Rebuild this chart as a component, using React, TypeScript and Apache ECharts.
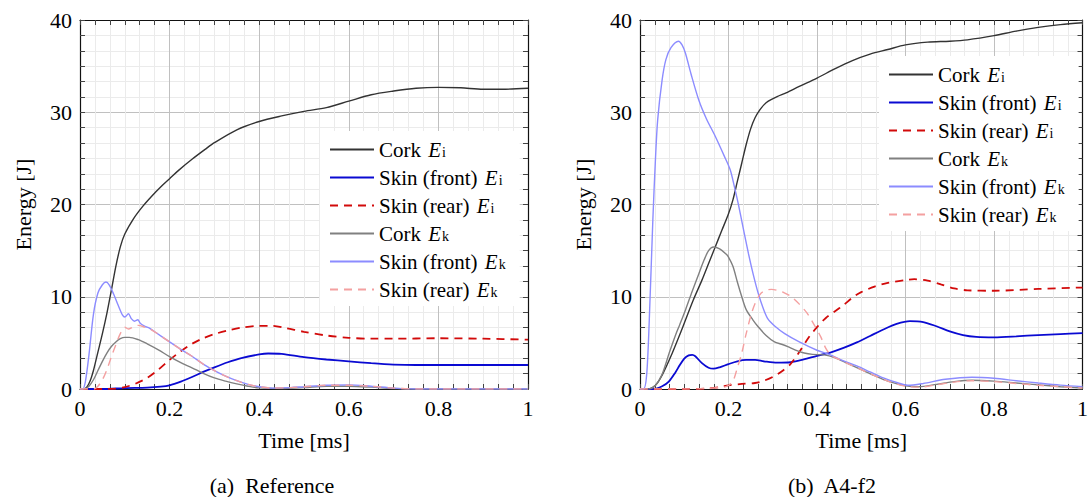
import React, { useEffect, useRef } from "react";
import * as echarts from "echarts";

// ---------- data (time [ms], energy [J]) ----------
const seriesNames = ["Cork Ei", "Skin (front) Ei", "Skin (rear) Ei", "Cork Ek", "Skin (front) Ek", "Skin (rear) Ek"];
const xTicks = [0, 0.2, 0.4, 0.6, 0.8, 1];
const yTicks = [0, 10, 20, 30, 40];
const captions = ["(a)  Reference", "(b)  A4-f2"];

// (a) Reference
const refCorkEi = [[0,0],[0.008,0],[0.015,0.2],[0.02,0.6],[0.025,1.2],[0.03,2.0],[0.04,4.0],[0.05,6.0],[0.06,8.2],[0.07,10.7],[0.08,13.3],[0.09,15.4],[0.1,16.8],[0.12,18.5],[0.14,19.8],[0.16,20.9],[0.18,21.9],[0.2,22.8],[0.22,23.7],[0.25,24.9],[0.28,26.0],[0.3,26.7],[0.35,28.1],[0.4,29.0],[0.45,29.6],[0.5,30.1],[0.55,30.5],[0.6,31.2],[0.65,31.9],[0.7,32.3],[0.75,32.6],[0.8,32.7],[0.85,32.65],[0.9,32.5],[0.95,32.5],[1,32.6]];
const refSkinFrontEi = [[0,0],[0.05,0],[0.1,0.1],[0.15,0.15],[0.18,0.25],[0.2,0.4],[0.225,0.8],[0.25,1.3],[0.275,1.85],[0.3,2.35],[0.33,2.9],[0.36,3.35],[0.4,3.75],[0.42,3.85],[0.45,3.8],[0.5,3.45],[0.55,3.2],[0.6,3.0],[0.65,2.8],[0.7,2.65],[0.75,2.6],[0.8,2.6],[0.9,2.6],[1,2.6]];
const refSkinRearEi = [[0,0],[0.05,0],[0.08,0.05],[0.1,0.2],[0.125,0.6],[0.15,1.2],[0.175,2.1],[0.2,3.15],[0.225,4.1],[0.25,4.9],[0.275,5.5],[0.3,5.95],[0.33,6.35],[0.36,6.65],[0.4,6.85],[0.43,6.85],[0.46,6.6],[0.5,6.2],[0.55,5.8],[0.6,5.55],[0.65,5.45],[0.7,5.45],[0.8,5.5],[0.9,5.45],[1,5.35]];
const refCorkEk = [[0,0],[0.01,0],[0.02,0.3],[0.03,1.0],[0.04,2.0],[0.05,3.0],[0.06,3.9],[0.07,4.6],[0.08,5.1],[0.09,5.45],[0.1,5.6],[0.11,5.6],[0.13,5.35],[0.15,4.9],[0.175,4.25],[0.2,3.5],[0.225,2.85],[0.25,2.3],[0.275,1.7],[0.3,1.2],[0.325,0.85],[0.35,0.55],[0.375,0.3],[0.4,0.12],[0.45,0.05],[0.5,0.15],[0.55,0.3],[0.6,0.3],[0.65,0.2],[0.7,0.05],[0.75,0],[1,0]];
const refSkinFrontEk = [[0,0],[0.006,0],[0.012,0.8],[0.02,3.7],[0.03,8.1],[0.04,10.4],[0.05,11.3],[0.058,11.6],[0.065,11.3],[0.075,10.3],[0.085,9.1],[0.095,8.0],[0.1,7.8],[0.108,8.15],[0.115,7.6],[0.122,7.35],[0.129,7.5],[0.135,7.1],[0.145,6.8],[0.155,6.6],[0.17,6.1],[0.2,5.1],[0.225,4.3],[0.25,3.55],[0.275,2.7],[0.3,2.0],[0.325,1.4],[0.35,0.9],[0.375,0.5],[0.4,0.25],[0.43,0.1],[0.47,0.15],[0.5,0.25],[0.55,0.4],[0.6,0.45],[0.65,0.3],[0.7,0.1],[0.75,0],[1,0]];
const refSkinRearEk = [[0,0],[0.03,0],[0.04,0.3],[0.05,1.0],[0.06,2.1],[0.07,3.5],[0.08,4.8],[0.09,6.0],[0.1,6.7],[0.108,6.5],[0.118,6.7],[0.13,6.9],[0.145,6.7],[0.155,6.55],[0.17,6.1],[0.2,5.1],[0.225,4.3],[0.25,3.55],[0.275,2.7],[0.3,2.0],[0.325,1.4],[0.35,0.9],[0.375,0.5],[0.4,0.25],[0.43,0.1],[0.47,0.15],[0.5,0.25],[0.55,0.4],[0.6,0.4],[0.65,0.3],[0.7,0.1],[0.75,0],[1,0]];

// (b) A4-f2
const a4CorkEi = [[0,0],[0.02,0],[0.03,0.2],[0.04,0.7],[0.05,1.5],[0.06,2.5],[0.073,3.9],[0.09,5.9],[0.103,7.5],[0.12,9.6],[0.14,11.8],[0.155,13.6],[0.17,15.4],[0.185,17.2],[0.2,19.0],[0.21,20.5],[0.22,22.5],[0.23,24.5],[0.24,26.5],[0.25,28.2],[0.26,29.4],[0.27,30.2],[0.28,30.8],[0.29,31.2],[0.31,31.7],[0.33,32.1],[0.36,32.8],[0.4,33.7],[0.44,34.7],[0.48,35.6],[0.52,36.3],[0.56,36.8],[0.6,37.3],[0.65,37.6],[0.7,37.7],[0.74,37.85],[0.8,38.3],[0.85,38.8],[0.9,39.2],[0.95,39.5],[1,39.7]];
const a4SkinFrontEi = [[0,0],[0.03,0],[0.05,0.3],[0.065,0.8],[0.08,1.8],[0.09,2.6],[0.1,3.3],[0.11,3.65],[0.118,3.7],[0.125,3.55],[0.14,2.8],[0.155,2.3],[0.166,2.2],[0.18,2.35],[0.2,2.7],[0.22,3.0],[0.24,3.15],[0.26,3.15],[0.28,3.0],[0.31,2.85],[0.34,2.9],[0.37,3.2],[0.4,3.6],[0.43,3.95],[0.46,4.45],[0.49,5.05],[0.52,5.75],[0.55,6.45],[0.58,7.05],[0.61,7.35],[0.64,7.25],[0.67,6.8],[0.7,6.25],[0.73,5.85],[0.76,5.65],[0.8,5.6],[0.85,5.7],[0.9,5.85],[0.95,5.95],[1,6.05]];
const a4SkinRearEi = [[0,0],[0.1,0],[0.15,0.05],[0.18,0.2],[0.2,0.4],[0.23,0.55],[0.26,0.65],[0.28,0.9],[0.3,1.3],[0.32,1.9],[0.34,2.7],[0.36,4.0],[0.38,5.5],[0.4,6.7],[0.42,7.7],[0.44,8.4],[0.46,9.1],[0.48,9.9],[0.5,10.5],[0.53,11.1],[0.56,11.5],[0.6,11.8],[0.62,11.9],[0.65,11.75],[0.68,11.35],[0.71,10.9],[0.74,10.7],[0.8,10.65],[0.9,10.85],[1,11.0]];
const a4CorkEk = [[0,0],[0.02,0],[0.035,0.4],[0.05,1.6],[0.066,3.9],[0.08,5.8],[0.09,7.0],[0.103,8.6],[0.118,10.6],[0.133,12.5],[0.145,14.0],[0.155,15.0],[0.166,15.4],[0.18,15.2],[0.195,14.6],[0.2,14.3],[0.21,13.3],[0.22,11.6],[0.23,10.0],[0.24,8.6],[0.255,7.5],[0.267,6.75],[0.285,5.8],[0.304,5.1],[0.32,4.85],[0.334,4.6],[0.35,4.25],[0.371,3.9],[0.39,3.75],[0.416,3.7],[0.44,3.4],[0.47,2.75],[0.5,2.1],[0.53,1.45],[0.56,0.85],[0.6,0.35],[0.63,0.25],[0.67,0.5],[0.71,0.8],[0.75,0.95],[0.8,0.85],[0.85,0.65],[0.9,0.45],[0.95,0.25],[1,0.1]];
const a4SkinFrontEk = [[0,0],[0.008,0],[0.015,1.5],[0.021,7.5],[0.029,18.3],[0.035,25],[0.04,29.2],[0.05,33.5],[0.0585,35.7],[0.07,37.0],[0.0868,37.7],[0.095,37.3],[0.1027,36.4],[0.115,34.2],[0.133,31.3],[0.15,29.3],[0.17,27.4],[0.19,25.3],[0.204,23.75],[0.213,22.0],[0.222,20.1],[0.233,17.5],[0.245,14.7],[0.256,12.4],[0.267,10.4],[0.278,8.8],[0.289,7.6],[0.305,6.8],[0.327,6.0],[0.36,5.1],[0.4,4.2],[0.43,3.7],[0.46,3.05],[0.49,2.5],[0.52,1.85],[0.55,1.2],[0.58,0.7],[0.605,0.4],[0.64,0.6],[0.69,1.05],[0.75,1.27],[0.8,1.16],[0.85,0.9],[0.9,0.65],[0.95,0.42],[1,0.25]];
const a4SkinRearEk = [[0,0],[0.1,0],[0.15,0.05],[0.19,0.2],[0.2,0.4],[0.205,0.6],[0.2115,1.0],[0.22,2.3],[0.23,3.9],[0.24,6.0],[0.252,8.2],[0.263,9.6],[0.274,10.4],[0.285,10.7],[0.297,10.8],[0.31,10.7],[0.325,10.45],[0.342,10.0],[0.36,9.2],[0.378,8.2],[0.393,7.0],[0.408,5.7],[0.42,4.4],[0.431,3.7],[0.45,3.2],[0.47,2.75],[0.5,2.1],[0.53,1.45],[0.56,0.85],[0.6,0.3],[0.63,0.2],[0.67,0.45],[0.71,0.75],[0.75,0.9],[0.8,0.8],[0.85,0.6],[0.9,0.4],[0.95,0.25],[1,0.1]];

const refData = [refCorkEi, refSkinFrontEi, refSkinRearEi, refCorkEk, refSkinFrontEk, refSkinRearEk];
const a4Data = [a4CorkEi, a4SkinFrontEi, a4SkinRearEi, a4CorkEk, a4SkinFrontEk, a4SkinRearEk];

// ---------- styles ----------
const FONT = "Liberation Serif";
const lineStyles = [
  { color: "#333333", width: 1.4, type: "solid" },
  { color: "#0a0ad2", width: 1.8, type: "solid" },
  { color: "#d20a0a", width: 1.8, type: [8, 6] },
  { color: "#808080", width: 1.4, type: "solid" },
  { color: "#8c8cff", width: 1.4, type: "solid" },
  { color: "#f4a0a0", width: 1.4, type: [8, 6] },
];

const gridsPos = [
  { left: 80, top: 20, width: 448, height: 369 },
  { left: 640, top: 20, width: 448, height: 369 },
];
const legendPos = [
  { left: 320, top: 131 },
  { left: 879, top: 56 },
];
const captionX = [272, 832];

function legendFormatter(name: string) {
  const sub = name.slice(-1);
  const base = name.slice(0, -2);
  return `{t|${base}}{e|E}{s|${sub}}`;
}

function buildOption() {
  const grid = gridsPos.map((g) => ({ ...g, containLabel: false }));
  const tickColor = "#444";
  const xAxis: any[] = [];
  const yAxis: any[] = [];
  gridsPos.forEach((_, gi) => {
    const common = {
      type: "value",
      gridIndex: gi,
      axisLine: { show: true, onZero: false, lineStyle: { color: "#111", width: 1.2 } },
      axisTick: { show: true, inside: true, length: 5, lineStyle: { color: tickColor, width: 1 } },
      minorTick: { show: true, splitNumber: 6, length: 5, lineStyle: { color: tickColor, width: 1 } },
    };
    const xc = { ...common, min: xTicks[0], max: xTicks[xTicks.length - 1], interval: xTicks[1] - xTicks[0] };
    const yc = { ...common, min: yTicks[0], max: yTicks[yTicks.length - 1], interval: yTicks[1] - yTicks[0] };
    xAxis.push({
      ...xc,
      position: "bottom",
      name: "Time [ms]",
      nameLocation: "middle",
      nameGap: 40,
      nameTextStyle: { fontFamily: FONT, fontSize: 22, color: "#000" },
      axisLabel: { fontFamily: FONT, fontSize: 22, color: "#000", margin: 8 },
      splitLine: { show: true, lineStyle: { color: "#c0c0c0", width: 1 } },
      minorSplitLine: { show: true, lineStyle: { color: "#ebebeb", width: 1 } },
    });
    xAxis.push({
      ...xc,
      position: "top",
      axisLabel: { show: false },
      splitLine: { show: false },
      minorSplitLine: { show: false },
    });
    yAxis.push({
      ...yc,
      position: "left",
      name: "Energy [J]",
      nameLocation: "middle",
      nameGap: 46,
      nameTextStyle: { fontFamily: FONT, fontSize: 22, color: "#000" },
      axisLabel: { fontFamily: FONT, fontSize: 22, color: "#000", margin: 8 },
      splitLine: { show: true, lineStyle: { color: "#c0c0c0", width: 1 } },
      minorSplitLine: { show: true, lineStyle: { color: "#ebebeb", width: 1 } },
    });
    yAxis.push({
      ...yc,
      position: "right",
      axisLabel: { show: false },
      splitLine: { show: false },
      minorSplitLine: { show: false },
    });
  });

  const series: any[] = [];
  [refData, a4Data].forEach((set, gi) => {
    set.forEach((data, si) => {
      const ls = lineStyles[si];
      series.push({
        type: "line",
        name: seriesNames[si],
        xAxisIndex: gi * 2,
        yAxisIndex: gi * 2,
        data,
        symbol: "none",
        smooth: 0.3,
        clip: true,
        lineStyle: { color: ls.color, width: ls.width, type: ls.type },
        itemStyle: { color: ls.color },
      });
    });
  });

  const legend = legendPos.map((p) => ({
    ...p,
    orient: "vertical",
    data: seriesNames,
    backgroundColor: "#ffffff",
    borderWidth: 0,
    padding: [8, 14, 6, 9],
    itemWidth: 44,
    itemHeight: 14,
    itemGap: 7,
    selectedMode: false,
    itemStyle: { opacity: 0 },
    formatter: legendFormatter,
    textStyle: {
      fontFamily: FONT,
      fontSize: 21,
      color: "#000",
      lineHeight: 20,
      rich: {
        t: { fontFamily: FONT, fontSize: 21, color: "#000", lineHeight: 20 },
        e: { fontFamily: FONT, fontSize: 21, fontStyle: "italic", color: "#000", lineHeight: 20, padding: [0, 1, 0, 2] },
        s: { fontFamily: FONT, fontSize: 14, color: "#000", lineHeight: 10, verticalAlign: "bottom" },
      },
    },
  }));

  const graphic = captions.map((c, i) => ({
    type: "text",
    x: captionX[i],
    y: 485,
    style: {
      text: c,
      fontFamily: FONT,
      fontSize: 22,
      fill: "#000",
      textAlign: "center",
      textVerticalAlign: "middle",
      verticalAlign: "middle",
    },
  }));

  return {
    animation: false,
    backgroundColor: "#ffffff",
    textStyle: { fontFamily: FONT },
    grid,
    xAxis,
    yAxis,
    series,
    legend,
    graphic,
  };
}

export default function App() {
  const ref = useRef<HTMLDivElement>(null);
  useEffect(() => {
    if (!ref.current) return;
    const chart = echarts.init(ref.current, undefined, { renderer: "svg" });
    chart.setOption(buildOption() as any);
    return () => chart.dispose();
  }, []);
  return (
    <div
      ref={ref}
      style={{ position: "fixed", left: 0, top: 0, width: 1091, height: 497, background: "#fff" }}
    />
  );
}
